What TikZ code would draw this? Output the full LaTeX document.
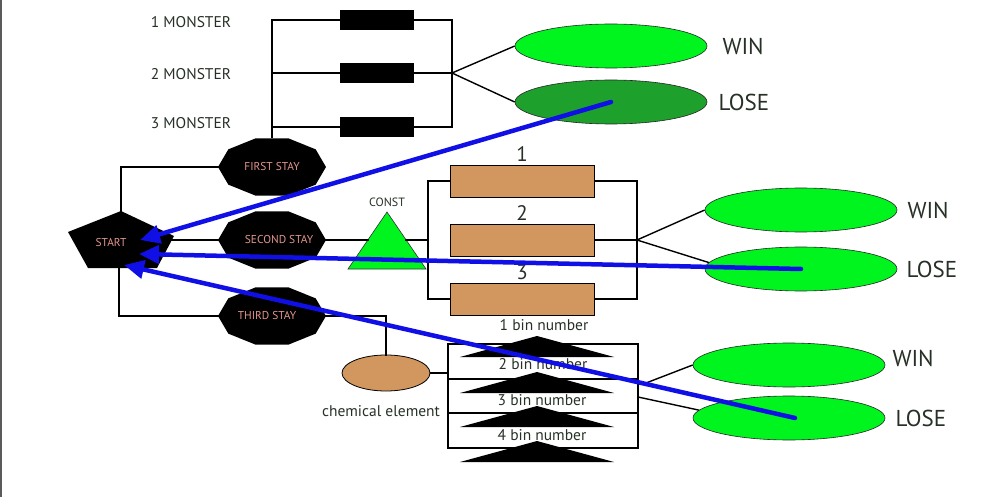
\documentclass[tikz,border=0pt]{standalone}
\usepackage{fontspec}
\setmainfont{PT Sans}
\usetikzlibrary{positioning,arrows.meta,shapes.geometric}

\definecolor{wingreen}{RGB}{0,245,30}
\definecolor{losegreen}{RGB}{30,160,45}
\definecolor{binbrown}{RGB}{210,150,95}
\definecolor{backblue}{RGB}{15,15,230}
\definecolor{labelgray}{RGB}{38,48,38}
\definecolor{staypink}{RGB}{228,150,140}
\definecolor{framegray}{RGB}{90,90,90}

\tikzset{
    wire/.style={black, line width=1.8pt, line cap=rect},
    branch/.style={black, line width=1.4pt},
    outcome/.style={ellipse, draw=black!85, line width=0.6pt, fill=wingreen,
        minimum width=192pt, minimum height=44pt, inner sep=0pt},
    monsterbox/.style={fill=black, minimum width=74pt, minimum height=20pt, inner sep=0pt},
    binbox/.style={draw=black, fill=binbrown, line width=0.8pt,
        minimum width=144pt, minimum height=32pt, inner sep=0pt},
    chembox/.style={ellipse, draw=black, fill=binbrown, line width=0.8pt,
        minimum width=88pt, minimum height=36pt, inner sep=0pt},
    tag/.style={text=labelgray, inner sep=0pt, font=\fontsize{15.5}{17}\selectfont},
    bigtag/.style={text=labelgray, inner sep=0pt, font=\fontsize{23}{25}\selectfont},
    numtag/.style={text=labelgray, inner sep=0pt, font=\fontsize{21}{23}\selectfont},
    consttag/.style={text=labelgray, inner sep=0pt, font=\fontsize{12}{14}\selectfont},
    staytag/.style={text=staypink, inner sep=0pt, font=\fontsize{11.4}{13}\selectfont},
    back/.style={backblue, line width=4.5pt, line cap=round,
        -{Triangle[length=20pt,width=18pt]}},
}

\begin{document}
\begin{tikzpicture}[x=1pt, y=-1pt]
    \useasboundingbox (0,0) rectangle (1001,497);
    \draw[framegray, line width=1.5pt] (1,0) -- (1,497);

    % start
    \coordinate (starttop) at (121,211);
    \coordinate (startright) at (168,240);
    \coordinate (startbottom) at (119,268);
    \fill (68,232) -- (starttop) -- (174,236) -- (157,268) -- (88,268) -- cycle;
    \node[staytag] (start) at (111,243) {START};

    % stays
    \foreach \name/\y/\dx/\txt in {first/167/0/FIRST STAY, second/240/7/SECOND STAY, third/316/-5/THIRD STAY}{
        \fill[shift={(272,\y)}] (0:54 and 30) \foreach \a in {36,72,...,324}{ -- (\a:54 and 30)} -- cycle;
        \node[minimum width=108pt, minimum height=60pt, inner sep=0pt,
            label={[staytag, xshift=\dx pt]center:\txt}] (\name) at (272,\y) {};
    }
    \draw[wire] (starttop) |- (first.west);
    \draw[wire] (startright) -- (second.west);
    \draw[wire] (startbottom) |- (third.west);

    % monsters
    \foreach \i/\y/\ly in {1/20/22, 2/73/74, 3/127/123}{
        \node[monsterbox] (monster\i) at (377,\y) {};
        \node[tag] (mlabel\i) at (191,\ly) {\i{} MONSTER};
        \coordinate (mleft\i) at (272,\y);
        \coordinate (mright\i) at (452,\y);
        \draw[wire] (mleft\i) -- (monster\i.west);
        \draw[wire] (monster\i.east) -- (mright\i);
    }
    \draw[wire] (mleft1) -- (first.north);
    \draw[wire] (mright1) -- (mright3);

    \node[outcome] (win1) at (611,46) {};
    \node[outcome, fill=losegreen] (lose1) at (611,102) {};
    \draw[branch] (mright2) -- (win1.west);
    \draw[branch] (mright2) -- (lose1.west);
    \node[bigtag, right=15pt of win1] (win1label) {WIN};
    \node[bigtag, right=11pt of lose1] (lose1label) {LOSE};

    % const and bins
    \coordinate (constapex) at (387,212);
    \coordinate (constleft) at (368,240);
    \coordinate (constright) at (406,240);
    \filldraw[fill=wingreen, draw=black!80, line width=0.6pt] (348,269) -- (constapex) -- (426,269) -- cycle;
    \node at (constapex) [consttag, above=5pt] (constlabel) {CONST};
    \draw[wire] (second.east) -- (constleft);

    \foreach \i/\y in {1/181, 2/240, 3/299}{
        \node[binbox] (bin\i) at (522,\y) {};
        \node at (bin\i.north) [numtag, above=3pt] (binnum\i) {\i};
        \coordinate (bleft\i) at (428,\y);
        \coordinate (bright\i) at (637,\y);
        \draw[wire] (bin\i.east) -- (bright\i);
    }
    \draw[wire] (bin1.west) -- (bleft1) -- (bleft3) -- (bin3.west);
    \draw[wire] (constright) -- (bleft2);
    \draw[wire] (bright1) -- (bright3);

    \node[outcome] (win2) at (801,210) {};
    \node[outcome] (lose2) at (801,269) {};
    \draw[branch] (bright2) -- (win2.west);
    \draw[branch] (bright2) -- (lose2.176);
    \node[bigtag, right=10pt of win2] (win2label) {WIN};
    \node[bigtag, right=9pt of lose2] (lose2label) {LOSE};

    % chemical element and bin numbers
    \node[chembox] (chem) at (386,373) {};
    \node[tag] (chemlabel) at (381,411) {chemical element};
    \draw[wire] (third.east) -| (chem.north);

    \foreach \i/\y in {1/344, 2/379, 3/413, 4/448}{
        \coordinate (rowl\i) at (448,\y);
        \coordinate (rowr\i) at (638,\y);
        \draw[wire] (rowl\i) -- (rowr\i);
    }
    \draw[wire] (rowl1) -- (rowl4);
    \draw[wire] (rowr1) -- (rowr4);
    \draw[wire] (chem.east) -- (chem.east -| rowl1);

    \foreach \i/\y in {1/336, 2/372, 3/406, 4/441}{
        \coordinate (hat\i) at (537,\y);
        \fill (hat\i) -- ++(-77,21) -- ++(154,0) -- cycle;
    }
    \foreach \i/\x/\y in {1/544/325, 2/543/364, 3/542/400, 4/542/435}
        \node[tag] (binlabel\i) at (\x,\y) {\i{} bin number};

    \node[outcome] (win3) at (789,365) {};
    \node[outcome] (lose3) at (789,418) {};
    \coordinate (join3a) at (646,383);
    \coordinate (join3b) at (638,397);
    \draw[branch] (join3a) -- (win3.west);
    \draw[branch] (join3b) -- (lose3.175);
    \node[bigtag, right=7pt of win3, yshift=7pt] (win3label) {WIN};
    \node[bigtag, right=10pt of lose3] (lose3label) {LOSE};

    % way back
    \coordinate (hit1) at (140,240);
    \coordinate (hit2) at (139,254);
    \coordinate (hit3) at (124,265);
    \draw[back] (lose1.center) -- (hit1);
    \draw[back] (lose2.center) -- (hit2);
    \draw[back] ([xshift=6pt]lose3.center) -- (hit3);
\end{tikzpicture}
\end{document}
